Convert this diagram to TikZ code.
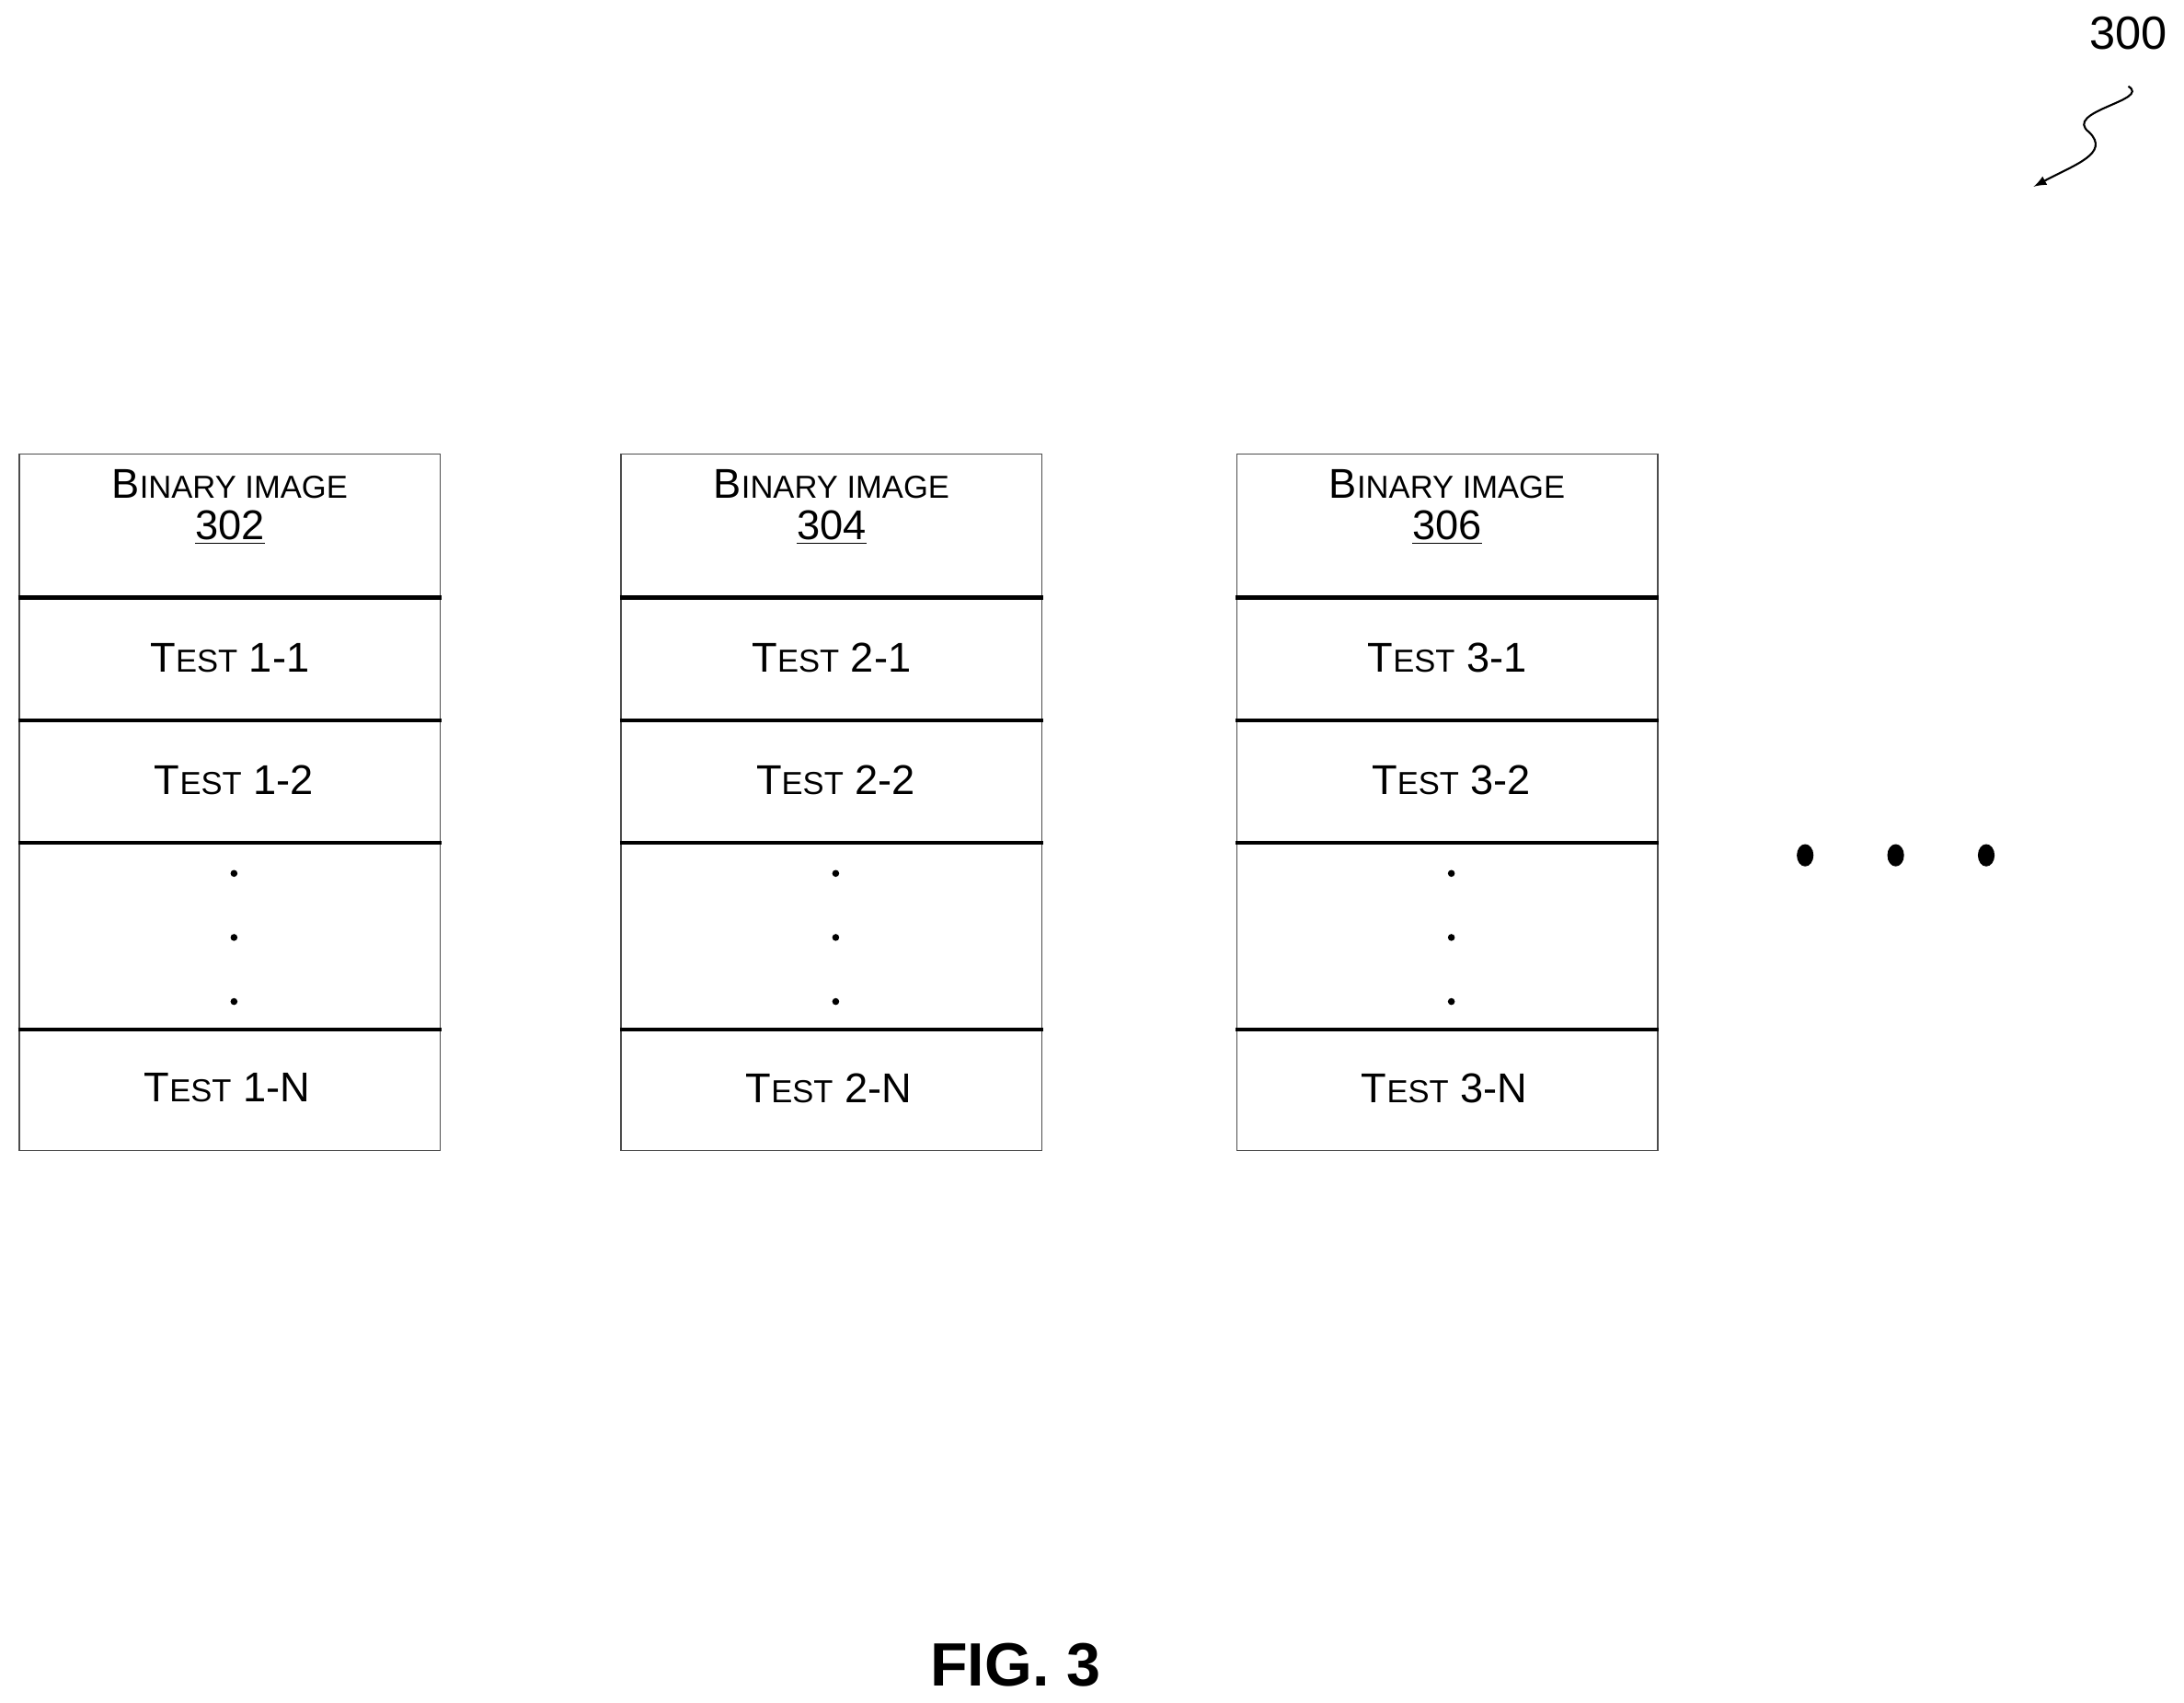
\documentclass[tikz,border=0pt]{standalone}
\usepackage{fontspec}
\setmainfont{Liberation Sans}
\usetikzlibrary{positioning}
\newcommand\capsm[2]{#1{\fontsize{13}{15}\selectfont #2}}
\tikzset{
  cell/.style={font=\fontsize{17}{19}\selectfont},
  sep/.style={line width=1.6pt},
}
\begin{document}
\begin{tikzpicture}[x=0.02cm,y=-0.02cm]
\useasboundingbox (0,0) rectangle (1568,1222);
% three columns of tests
\foreach \k/\x/\num in {1/14/302,2/446/304,3/888/306}{
  \draw[line width=0.6pt,black!70] (\x,326) rectangle ++(302,500);
  \foreach \y in {429,517,605,739}
    \draw[sep] (\x-1,\y) -- ++(304,0);
  \node[cell,align=center] (bin\k) at (\x+151,364) {\capsm{B}{INARY IMAGE}\\[-2pt]\underline{\num}};
  \node[cell] (t\k a) at (\x+151,472) {\capsm{T}{EST} \k-1};
  \node[cell] (t\k b) at (\x+154,560) {\capsm{T}{EST} \k-2};
  \foreach \y in {627,673,719}
    \fill (\x+154,\y) circle (2.5);
  \node[cell] (t\k n) at (\x+149,781) {\capsm{T}{EST} \k-N};
}
% more columns
\foreach \x in {1296,1361,1426}
  \fill (\x,614) ellipse (6 and 8);
% reference numeral
\node[font=\fontsize{19}{21}\selectfont] (ref) at (1528,24) {300};
\draw[-latex,line width=0.8pt] (1528,62) .. controls (1545,72) and (1480,80) .. (1500,95)
  .. controls (1515,110) and (1490,118) .. (1460,134);
\node[font=\bfseries\fontsize{25}{28}\selectfont] (fig) at (729,1195) {FIG. 3};
\end{tikzpicture}
\end{document}
